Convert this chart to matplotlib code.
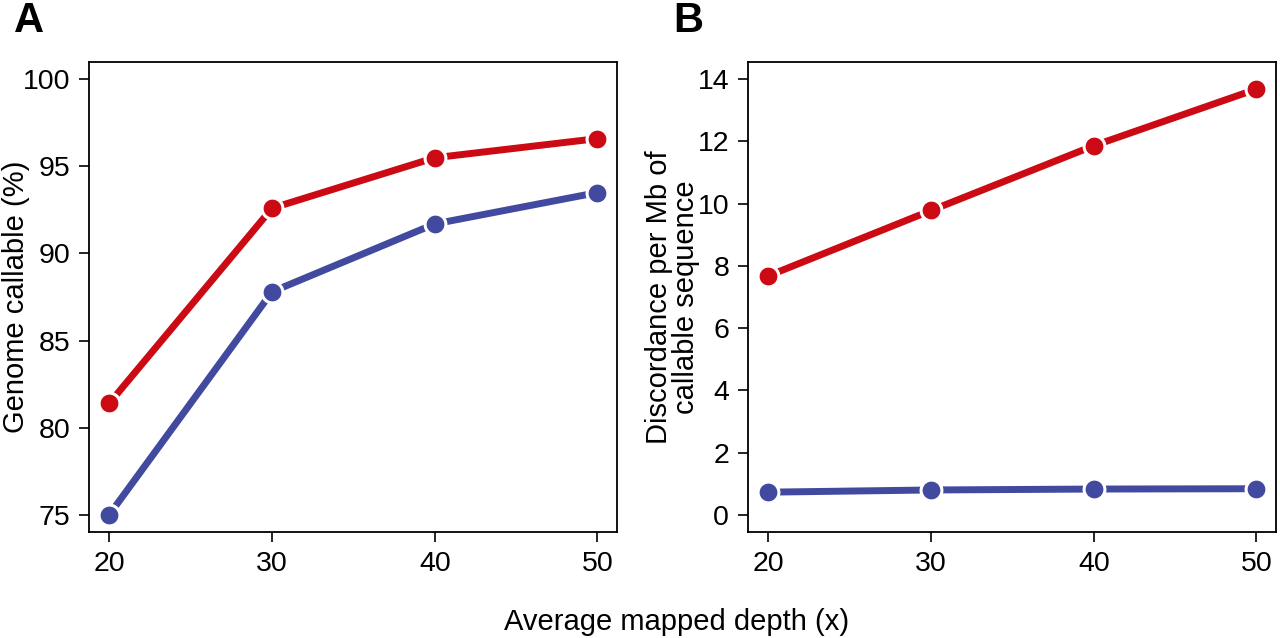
import matplotlib
matplotlib.use('Agg')
import matplotlib.pyplot as plt

plt.rcParams['font.family'] = ['Liberation Sans', 'DejaVu Sans']

depth = [20, 30, 40, 50]
# panel A: genome callable (%)
callable_red = [81.4, 92.6, 95.5, 96.6]
callable_blue = [75.0, 87.8, 91.7, 93.5]
# panel B: discordance per Mb
discord_red = [7.68, 9.78, 11.86, 13.68]
discord_blue = [0.73, 0.80, 0.83, 0.84]

red = '#CC0A14'
blue = '#414A9E'

fig = plt.figure(figsize=(12.8, 6.38), dpi=100)
axA = fig.add_axes([89 / 1280, 1 - 532 / 638, 528 / 1280, 470 / 638])
axB = fig.add_axes([748 / 1280, 1 - 532 / 638, 528 / 1280, 470 / 638])


def draw(ax, ys, yticks, ylim):
    for y, c in ys:
        ax.plot(depth, y, '-', color=c, lw=5, marker='o', ms=15,
                mfc=c, mec='white', mew=2.2, solid_capstyle='butt', zorder=3)
    ax.set_xlim(18.75, 51.2)
    ax.set_ylim(*ylim)
    ax.set_xticks(depth)
    ax.set_yticks(yticks)
    ax.tick_params(direction='out', length=7.5, width=1.2, labelsize=20.5, pad=6)
    for s in ax.spines.values():
        s.set_linewidth(1.3)


draw(axA, [(callable_red, red), (callable_blue, blue)], [75, 80, 85, 90, 95, 100], (74.0, 101.0))
axA.set_ylabel('Genome callable (%)', fontsize=21)
axA.yaxis.set_label_coords(-0.112, 0.5)

draw(axB, [(discord_red, red), (discord_blue, blue)], [0, 2, 4, 6, 8, 10, 12, 14], (-0.55, 14.55))
axB.set_ylabel('Discordance per Mb of\ncallable sequence', fontsize=21, linespacing=0.95)
axB.yaxis.set_label_coords(-0.091, 0.5)

fig.text(14 / 1280, 1 - 21 / 638, 'A', fontsize=30, fontweight='bold', va='center', ha='left')
fig.text(673 / 1280, 1 - 21 / 638, 'B', fontsize=30, fontweight='bold', va='center', ha='left')
fig.text(677 / 1280, 1 - 622 / 638, 'Average mapped depth (x)', fontsize=21, ha='center', va='center')

fig.savefig('out.png', dpi=100)
